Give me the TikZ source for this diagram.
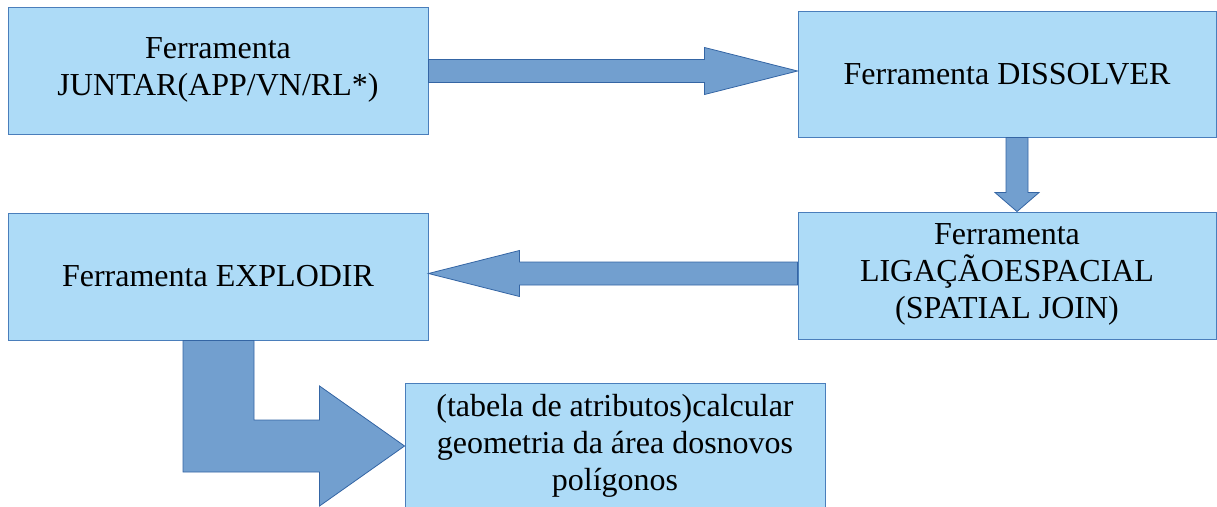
\documentclass[tikz,border=0pt]{standalone}
\usepackage{fontspec}
\setmainfont{Liberation Serif}
\usetikzlibrary{calc}
\definecolor{boxfill}{HTML}{ADDBF7}
\definecolor{boxline}{HTML}{4A7EBB}
\definecolor{arrfill}{HTML}{729FCF}
\definecolor{arrline}{HTML}{3465A4}
\newcommand{\lowdown}{\rule[-8pt]{0pt}{0pt}}
\tikzset{
  stepbox/.style={draw=boxline, line width=0.9pt, fill=boxfill, rectangle, inner sep=0pt,
    minimum width=420pt, minimum height=127pt, align=center,
    font=\fontsize{32}{37}\selectfont},
  blockarrow/.style={draw=arrline, line width=0.8pt, fill=arrfill, line join=miter}
}
\begin{document}
\begin{tikzpicture}[x=1pt,y=-1pt]
\useasboundingbox (0,0) rectangle (1217,506);
\node[stepbox] (b1) at (218,70.5) {Ferramenta\\JUNTAR(APP/VN/RL*)\lowdown};
\node[stepbox, minimum width=418pt, minimum height=126pt] (b2) at (1007,74) {Ferramenta DISSOLVER};
\node[stepbox] (b3) at (218,276.5) {Ferramenta EXPLODIR};
\node[stepbox, minimum width=418pt] (b4) at (1007,275.5) {Ferramenta\\LIGAÇÃOESPACIAL\\(SPATIAL JOIN)\lowdown};
\node[stepbox, minimum height=126pt] (b5) at (615,446) {(tabela de atributos)calcular\\geometria da área dosnovos\\polígonos\lowdown};
% right arrow b1 -> b2
\coordinate (r0) at ($(b1.east)+(0,0.5)$);
\coordinate (r1) at (r0 -| b2.west);
\draw[blockarrow] ($(r0)+(0,-11.5)$) -- ($(r1)+(-93,-11.5)$) -- ($(r1)+(-93,-23.5)$) -- (r1)
  -- ($(r1)+(-93,23.5)$) -- ($(r1)+(-93,11.5)$) -- ($(r0)+(0,11.5)$) -- cycle;
% down arrow b2 -> b4
\coordinate (d0) at ($(b2.south)+(10,0)$);
\coordinate (d1) at (d0 |- b4.north);
\draw[blockarrow] ($(d0)+(-11,0)$) -- ($(d1)+(-11,-19)$) -- ($(d1)+(-22,-19)$) -- (d1)
  -- ($(d1)+(22,-19)$) -- ($(d1)+(11,-19)$) -- ($(d0)+(11,0)$) -- cycle;
% left arrow b4 -> b3
\coordinate (l0) at ($(b4.west)+(0,-2)$);
\coordinate (l1) at (l0 -| b3.east);
\draw[blockarrow] ($(l0)+(0,-11.5)$) -- ($(l1)+(91,-11.5)$) -- ($(l1)+(91,-23)$) -- (l1)
  -- ($(l1)+(91,23)$) -- ($(l1)+(91,11.5)$) -- ($(l0)+(0,11.5)$) -- cycle;
% bent arrow b3 -> b5
\coordinate (t0) at (b3.south);
\coordinate (t1) at (b5.west);
\draw[blockarrow] ($(t0)+(-35,0)$) -- ($(t0)+(36,0)$) -- ($(t0 |- t1)+(36,-26)$)
  -- ($(t1)+(-85,-26)$) -- ($(t1)+(-85,-60)$) -- (t1) -- ($(t1)+(-85,60)$)
  -- ($(t1)+(-85,26)$) -- ($(t0 |- t1)+(-35,26)$) -- cycle;
\end{tikzpicture}
\end{document}
